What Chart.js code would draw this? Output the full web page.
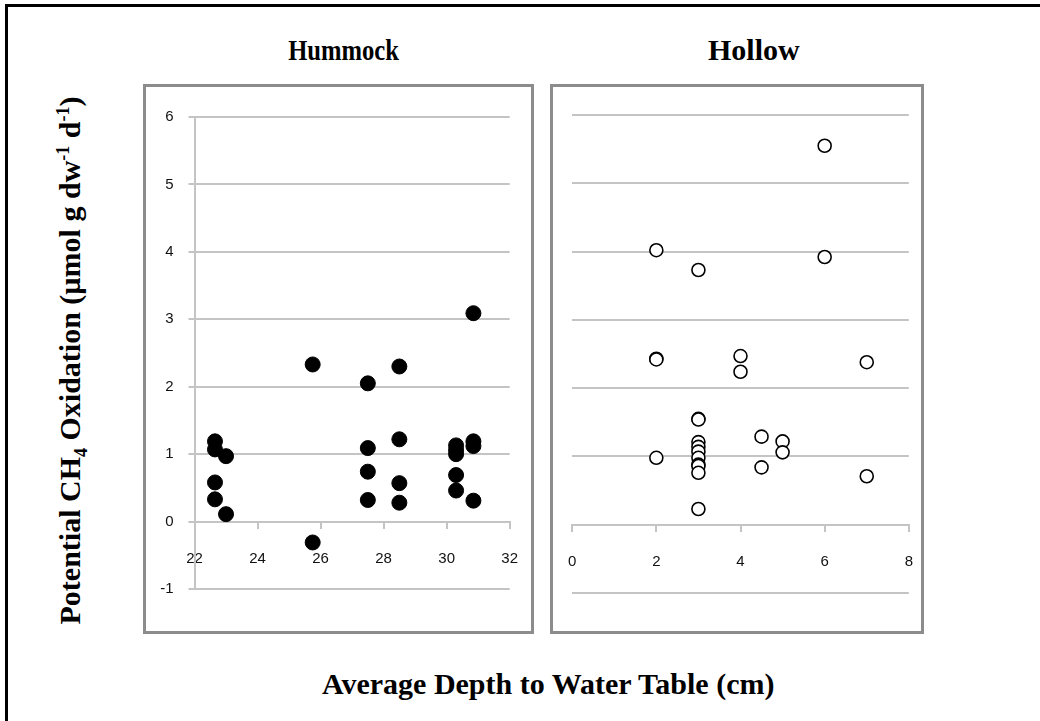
<!DOCTYPE html>
<html>
<head>
<meta charset="utf-8">
<script src="https://cdn.jsdelivr.net/npm/chart.js@4.4.1/dist/chart.umd.min.js"></script>
<style>
  html, body { margin: 0; padding: 0; background: #fff; }
  #page { position: relative; width: 1040px; height: 721px; overflow: hidden; background: #fff; }
  .outer { position: absolute; left: 5px; top: 4px; width: 1100px; height: 714px;
           border-left: 3px solid #000; border-top: 3px solid #000; border-bottom: 1px solid #ddd; }
  .frame { position: absolute; border: 3px solid #8c8c8c; box-sizing: border-box; }
  .cv { position: absolute; }
  .ttl { position: absolute; font-family: "Liberation Serif", serif; font-weight: bold;
         font-size: 30px; color: #000; white-space: nowrap; transform-origin: center center; }
  .ttl sub, .ttl sup { font-size: 18px; }
</style>
</head>
<body>
<div id="page">
  <div class="outer"></div>
  <div class="frame" style="left:143px;top:84px;width:391px;height:550px"></div>
  <div class="frame" style="left:550px;top:84px;width:374px;height:550px"></div>
  <canvas id="hummock" class="cv" style="left:144px;top:85px" width="396" height="547"></canvas>
  <canvas id="hollow" class="cv" style="left:546px;top:85px" width="389" height="547"></canvas>
  <div class="ttl" id="t1">Hummock</div>
  <div class="ttl" id="t2">Hollow</div>
  <div class="ttl" id="tx">Average Depth to Water Table (cm)</div>
  <div class="ttl" id="ty">Potential CH<sub>4</sub> Oxidation (µmol g dw<sup>-1</sup> d<sup>-1</sup>)</div>
</div>
<script>
// hummock plots: depth (cm) vs potential oxidation
const hummockDepth = [22.65, 22.65, 22.65, 22.65, 23.0, 23.0, 25.75, 25.75, 27.5, 27.5, 27.5, 27.5,
  28.5, 28.5, 28.5, 28.5, 30.3, 30.3, 30.3, 30.3, 30.3, 30.85, 30.85, 30.85, 30.85];
const hummockRate = [1.19, 1.07, 0.58, 0.33, 0.97, 0.11, 2.33, -0.31, 2.05, 1.09, 0.74, 0.32,
  2.30, 1.22, 0.57, 0.28, 1.13, 1.06, 1.00, 0.69, 0.46, 3.09, 1.19, 1.12, 0.31];

// hollow plots
const hollowDepth = [2, 2, 2, 2, 3, 3, 3, 3, 3, 3, 3, 3, 3, 3, 3, 4, 4, 4.5, 4.5, 5, 5, 6, 6, 7, 7];
const hollowRate = [4.02, 2.43, 2.42, 0.98, 3.73, 1.55, 1.54, 1.21, 1.14, 1.07, 0.98, 0.88, 0.86,
  0.76, 0.23, 2.47, 2.24, 1.29, 0.84, 1.22, 1.06, 5.55, 3.92, 2.38, 0.71];

const hummockXTicks = [22, 24, 26, 28, 30, 32];
const hollowXTicks = [0, 2, 4, 6, 8];
const rateTicks = [-1, 0, 1, 2, 3, 4, 5, 6];

const gridGrey = "#c4c4c4";
const tickFont = { family: "Liberation Sans", size: 15 };

function pts(xs, ys) {
  return xs.map((x, i) => ({ x, y: ys[i] }));
}

function fixedTicks(list) {
  return (scale) => { scale.ticks = list.map((v) => ({ value: v })); };
}

function makeChart(id, xs, ys, xTicks, opts) {
  return new Chart(document.getElementById(id), {
    type: "scatter",
    data: {
      datasets: [{
        data: pts(xs, ys),
        pointRadius: opts.radius,
        pointBackgroundColor: opts.fill,
        pointBorderColor: "#000",
        pointBorderWidth: opts.border,
      }],
    },
    options: {
      responsive: false,
      animation: false,
      layout: { padding: opts.padding },
      plugins: { legend: { display: false }, tooltip: { enabled: false } },
      scales: {
        x: {
          type: "linear",
          position: { y: 0 },
          min: xTicks[0],
          max: xTicks[xTicks.length - 1],
          afterBuildTicks: fixedTicks(xTicks),
          grid: { drawOnChartArea: false, drawTicks: true, tickLength: 6, color: gridGrey, lineWidth: 2 },
          border: { display: true, color: gridGrey, width: 2 },
          ticks: { color: "#111", font: tickFont, padding: 22, maxRotation: 0 },
        },
        y: {
          type: "linear",
          min: -1,
          max: 6,
          afterBuildTicks: fixedTicks(rateTicks),
          afterFit: (scale) => { scale.width = opts.yWidth; },
          grid: { color: gridGrey, lineWidth: 2, drawTicks: opts.yLabels, tickLength: 6 },
          border: { display: opts.yLabels, color: gridGrey, width: 2 },
          ticks: { display: opts.yLabels, color: "#111", font: tickFont, padding: 15 },
        },
      },
    },
  });
}

makeChart("hummock", hummockDepth, hummockRate, hummockXTicks, {
  radius: 7.5, fill: "#000", border: 1, yLabels: true, yWidth: 50.5,
  padding: { top: 32, right: 0, bottom: 43, left: 0 },
});

makeChart("hollow", hollowDepth, hollowRate, hollowXTicks, {
  radius: 6.5, fill: "#fff", border: 1.6, yLabels: false, yWidth: 10,
  padding: { top: 30, right: 0, bottom: 39, left: 0 },
});

// place the titles by their centres
function centre(id, cx, cy, tf) {
  const el = document.getElementById(id);
  const w = el.offsetWidth, h = el.offsetHeight;
  el.style.left = (cx - w / 2) + "px";
  el.style.top = (cy - h / 2) + "px";
  if (tf) el.style.transform = tf;
}
centre("t1", 343, 50, "scaleX(0.82)");
centre("t2", 754, 50);
centre("tx", 548, 684);
centre("ty", 72, 360, "rotate(-90deg)");
</script>
</body>
</html>
